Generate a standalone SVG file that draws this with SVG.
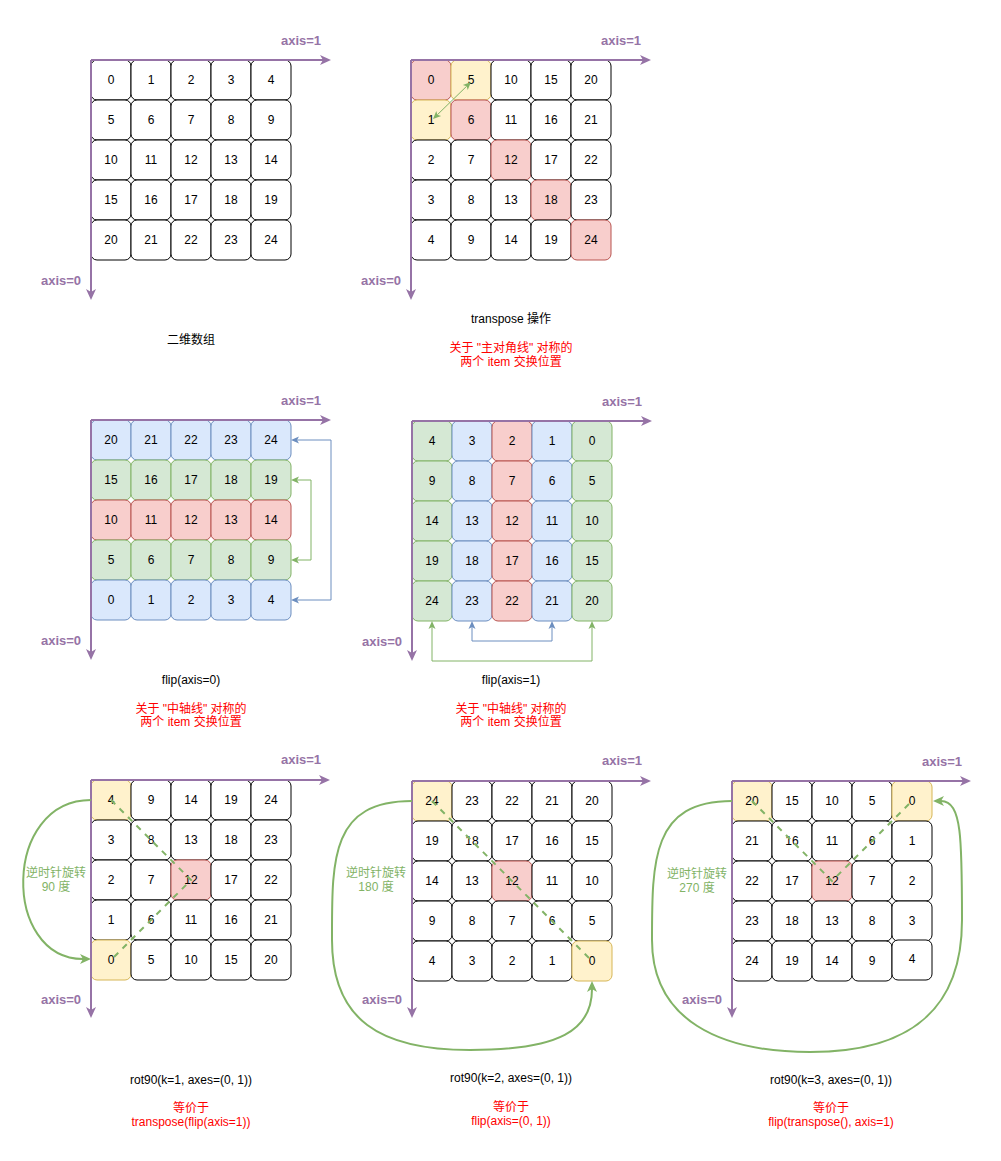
<svg xmlns="http://www.w3.org/2000/svg" width="1001" height="1161" viewBox="0 0 1001 1161">
<style>
text{font-family:"Liberation Sans","Noto Sans CJK SC",sans-serif;font-size:12px;text-anchor:middle;dominant-baseline:central;fill:#000}
.cell rect{fill:#fff;stroke:#000;stroke-width:1}
.cell.r rect{fill:#f8cecc;stroke:#b85450}
.cell.y rect{fill:#fff2cc;stroke:#d6b656}
.cell.b rect{fill:#dae8fc;stroke:#6c8ebf}
.cell.g rect{fill:#d5e8d4;stroke:#82b366}
.ax{stroke:#9673a6;stroke-width:2;fill:none}
.axl{font-size:13px;font-weight:bold;fill:#9673a6}
.red{fill:#ff0000}
.grn{fill:#82b366}
.lg{stroke:#82b366;stroke-width:1;fill:none}
.lb{stroke:#6c8ebf;stroke-width:1;fill:none}
.dash{stroke:#82b366;stroke-width:2;fill:none;stroke-dasharray:6 6}
.cur{stroke:#82b366;stroke-width:2;fill:none}
</style>
<defs>
<marker id="ap" markerUnits="userSpaceOnUse" markerWidth="12" markerHeight="12" viewBox="0 0 12 12" refX="3" refY="6" orient="auto-start-reverse"><path d="M0,1 L11,6 L0,11 L3,6 z" fill="#9673a6"/></marker>
<marker id="ac" markerUnits="userSpaceOnUse" markerWidth="12" markerHeight="12" viewBox="0 0 12 12" refX="3" refY="6" orient="auto-start-reverse"><path d="M0,1 L11,6 L0,11 L3,6 z" fill="#82b366"/></marker>
<marker id="ag" markerUnits="userSpaceOnUse" markerWidth="9" markerHeight="9" viewBox="0 0 9 9" refX="2" refY="4.5" orient="auto-start-reverse"><path d="M0,1 L8,4.5 L0,8 L2,4.5 z" fill="#82b366"/></marker>
<marker id="ab" markerUnits="userSpaceOnUse" markerWidth="9" markerHeight="9" viewBox="0 0 9 9" refX="2" refY="4.5" orient="auto-start-reverse"><path d="M0,1 L8,4.5 L0,8 L2,4.5 z" fill="#6c8ebf"/></marker>
</defs>
<rect width="1001" height="1161" fill="#fff"/>

<!-- Grid 1 -->
<g id="grid1" transform="translate(91,60)">
<g id="g1c0" class="cell"><rect x="0" y="0" width="40" height="40" rx="6"/><text x="20" y="20">0</text></g>
<g id="g1c1" class="cell"><rect x="40" y="0" width="40" height="40" rx="6"/><text x="60" y="20">1</text></g>
<g id="g1c2" class="cell"><rect x="80" y="0" width="40" height="40" rx="6"/><text x="100" y="20">2</text></g>
<g id="g1c3" class="cell"><rect x="120" y="0" width="40" height="40" rx="6"/><text x="140" y="20">3</text></g>
<g id="g1c4" class="cell"><rect x="160" y="0" width="40" height="40" rx="6"/><text x="180" y="20">4</text></g>
<g id="g1c5" class="cell"><rect x="0" y="40" width="40" height="40" rx="6"/><text x="20" y="60">5</text></g>
<g id="g1c6" class="cell"><rect x="40" y="40" width="40" height="40" rx="6"/><text x="60" y="60">6</text></g>
<g id="g1c7" class="cell"><rect x="80" y="40" width="40" height="40" rx="6"/><text x="100" y="60">7</text></g>
<g id="g1c8" class="cell"><rect x="120" y="40" width="40" height="40" rx="6"/><text x="140" y="60">8</text></g>
<g id="g1c9" class="cell"><rect x="160" y="40" width="40" height="40" rx="6"/><text x="180" y="60">9</text></g>
<g id="g1c10" class="cell"><rect x="0" y="80" width="40" height="40" rx="6"/><text x="20" y="100">10</text></g>
<g id="g1c11" class="cell"><rect x="40" y="80" width="40" height="40" rx="6"/><text x="60" y="100">11</text></g>
<g id="g1c12" class="cell"><rect x="80" y="80" width="40" height="40" rx="6"/><text x="100" y="100">12</text></g>
<g id="g1c13" class="cell"><rect x="120" y="80" width="40" height="40" rx="6"/><text x="140" y="100">13</text></g>
<g id="g1c14" class="cell"><rect x="160" y="80" width="40" height="40" rx="6"/><text x="180" y="100">14</text></g>
<g id="g1c15" class="cell"><rect x="0" y="120" width="40" height="40" rx="6"/><text x="20" y="140">15</text></g>
<g id="g1c16" class="cell"><rect x="40" y="120" width="40" height="40" rx="6"/><text x="60" y="140">16</text></g>
<g id="g1c17" class="cell"><rect x="80" y="120" width="40" height="40" rx="6"/><text x="100" y="140">17</text></g>
<g id="g1c18" class="cell"><rect x="120" y="120" width="40" height="40" rx="6"/><text x="140" y="140">18</text></g>
<g id="g1c19" class="cell"><rect x="160" y="120" width="40" height="40" rx="6"/><text x="180" y="140">19</text></g>
<g id="g1c20" class="cell"><rect x="0" y="160" width="40" height="40" rx="6"/><text x="20" y="180">20</text></g>
<g id="g1c21" class="cell"><rect x="40" y="160" width="40" height="40" rx="6"/><text x="60" y="180">21</text></g>
<g id="g1c22" class="cell"><rect x="80" y="160" width="40" height="40" rx="6"/><text x="100" y="180">22</text></g>
<g id="g1c23" class="cell"><rect x="120" y="160" width="40" height="40" rx="6"/><text x="140" y="180">23</text></g>
<g id="g1c24" class="cell"><rect x="160" y="160" width="40" height="40" rx="6"/><text x="180" y="180">24</text></g>
</g>

<!-- Grid 2 transpose -->
<g id="grid2" transform="translate(411,60)">
<g id="g2c0" class="cell r"><rect x="0" y="0" width="40" height="40" rx="6"/><text x="20" y="20">0</text></g>
<g id="g2c1" class="cell y"><rect x="40" y="0" width="40" height="40" rx="6"/><text x="60" y="20">5</text></g>
<g id="g2c2" class="cell"><rect x="80" y="0" width="40" height="40" rx="6"/><text x="100" y="20">10</text></g>
<g id="g2c3" class="cell"><rect x="120" y="0" width="40" height="40" rx="6"/><text x="140" y="20">15</text></g>
<g id="g2c4" class="cell"><rect x="160" y="0" width="40" height="40" rx="6"/><text x="180" y="20">20</text></g>
<g id="g2c5" class="cell y"><rect x="0" y="40" width="40" height="40" rx="6"/><text x="20" y="60">1</text></g>
<g id="g2c6" class="cell r"><rect x="40" y="40" width="40" height="40" rx="6"/><text x="60" y="60">6</text></g>
<g id="g2c7" class="cell"><rect x="80" y="40" width="40" height="40" rx="6"/><text x="100" y="60">11</text></g>
<g id="g2c8" class="cell"><rect x="120" y="40" width="40" height="40" rx="6"/><text x="140" y="60">16</text></g>
<g id="g2c9" class="cell"><rect x="160" y="40" width="40" height="40" rx="6"/><text x="180" y="60">21</text></g>
<g id="g2c10" class="cell"><rect x="0" y="80" width="40" height="40" rx="6"/><text x="20" y="100">2</text></g>
<g id="g2c11" class="cell"><rect x="40" y="80" width="40" height="40" rx="6"/><text x="60" y="100">7</text></g>
<g id="g2c12" class="cell r"><rect x="80" y="80" width="40" height="40" rx="6"/><text x="100" y="100">12</text></g>
<g id="g2c13" class="cell"><rect x="120" y="80" width="40" height="40" rx="6"/><text x="140" y="100">17</text></g>
<g id="g2c14" class="cell"><rect x="160" y="80" width="40" height="40" rx="6"/><text x="180" y="100">22</text></g>
<g id="g2c15" class="cell"><rect x="0" y="120" width="40" height="40" rx="6"/><text x="20" y="140">3</text></g>
<g id="g2c16" class="cell"><rect x="40" y="120" width="40" height="40" rx="6"/><text x="60" y="140">8</text></g>
<g id="g2c17" class="cell"><rect x="80" y="120" width="40" height="40" rx="6"/><text x="100" y="140">13</text></g>
<g id="g2c18" class="cell r"><rect x="120" y="120" width="40" height="40" rx="6"/><text x="140" y="140">18</text></g>
<g id="g2c19" class="cell"><rect x="160" y="120" width="40" height="40" rx="6"/><text x="180" y="140">23</text></g>
<g id="g2c20" class="cell"><rect x="0" y="160" width="40" height="40" rx="6"/><text x="20" y="180">4</text></g>
<g id="g2c21" class="cell"><rect x="40" y="160" width="40" height="40" rx="6"/><text x="60" y="180">9</text></g>
<g id="g2c22" class="cell"><rect x="80" y="160" width="40" height="40" rx="6"/><text x="100" y="180">14</text></g>
<g id="g2c23" class="cell"><rect x="120" y="160" width="40" height="40" rx="6"/><text x="140" y="180">19</text></g>
<g id="g2c24" class="cell r"><rect x="160" y="160" width="40" height="40" rx="6"/><text x="180" y="180">24</text></g>
</g>

<!-- Grid 3 flip axis=0 -->
<g id="grid3" transform="translate(91,420)">
<g id="g3c0" class="cell b"><rect x="0" y="0" width="40" height="40" rx="6"/><text x="20" y="20">20</text></g>
<g id="g3c1" class="cell b"><rect x="40" y="0" width="40" height="40" rx="6"/><text x="60" y="20">21</text></g>
<g id="g3c2" class="cell b"><rect x="80" y="0" width="40" height="40" rx="6"/><text x="100" y="20">22</text></g>
<g id="g3c3" class="cell b"><rect x="120" y="0" width="40" height="40" rx="6"/><text x="140" y="20">23</text></g>
<g id="g3c4" class="cell b"><rect x="160" y="0" width="40" height="40" rx="6"/><text x="180" y="20">24</text></g>
<g id="g3c5" class="cell g"><rect x="0" y="40" width="40" height="40" rx="6"/><text x="20" y="60">15</text></g>
<g id="g3c6" class="cell g"><rect x="40" y="40" width="40" height="40" rx="6"/><text x="60" y="60">16</text></g>
<g id="g3c7" class="cell g"><rect x="80" y="40" width="40" height="40" rx="6"/><text x="100" y="60">17</text></g>
<g id="g3c8" class="cell g"><rect x="120" y="40" width="40" height="40" rx="6"/><text x="140" y="60">18</text></g>
<g id="g3c9" class="cell g"><rect x="160" y="40" width="40" height="40" rx="6"/><text x="180" y="60">19</text></g>
<g id="g3c10" class="cell r"><rect x="0" y="80" width="40" height="40" rx="6"/><text x="20" y="100">10</text></g>
<g id="g3c11" class="cell r"><rect x="40" y="80" width="40" height="40" rx="6"/><text x="60" y="100">11</text></g>
<g id="g3c12" class="cell r"><rect x="80" y="80" width="40" height="40" rx="6"/><text x="100" y="100">12</text></g>
<g id="g3c13" class="cell r"><rect x="120" y="80" width="40" height="40" rx="6"/><text x="140" y="100">13</text></g>
<g id="g3c14" class="cell r"><rect x="160" y="80" width="40" height="40" rx="6"/><text x="180" y="100">14</text></g>
<g id="g3c15" class="cell g"><rect x="0" y="120" width="40" height="40" rx="6"/><text x="20" y="140">5</text></g>
<g id="g3c16" class="cell g"><rect x="40" y="120" width="40" height="40" rx="6"/><text x="60" y="140">6</text></g>
<g id="g3c17" class="cell g"><rect x="80" y="120" width="40" height="40" rx="6"/><text x="100" y="140">7</text></g>
<g id="g3c18" class="cell g"><rect x="120" y="120" width="40" height="40" rx="6"/><text x="140" y="140">8</text></g>
<g id="g3c19" class="cell g"><rect x="160" y="120" width="40" height="40" rx="6"/><text x="180" y="140">9</text></g>
<g id="g3c20" class="cell b"><rect x="0" y="160" width="40" height="40" rx="6"/><text x="20" y="180">0</text></g>
<g id="g3c21" class="cell b"><rect x="40" y="160" width="40" height="40" rx="6"/><text x="60" y="180">1</text></g>
<g id="g3c22" class="cell b"><rect x="80" y="160" width="40" height="40" rx="6"/><text x="100" y="180">2</text></g>
<g id="g3c23" class="cell b"><rect x="120" y="160" width="40" height="40" rx="6"/><text x="140" y="180">3</text></g>
<g id="g3c24" class="cell b"><rect x="160" y="160" width="40" height="40" rx="6"/><text x="180" y="180">4</text></g>
</g>

<!-- Grid 4 flip axis=1 -->
<g id="grid4" transform="translate(412,421)">
<g id="g4c0" class="cell g"><rect x="0" y="0" width="40" height="40" rx="6"/><text x="20" y="20">4</text></g>
<g id="g4c1" class="cell b"><rect x="40" y="0" width="40" height="40" rx="6"/><text x="60" y="20">3</text></g>
<g id="g4c2" class="cell r"><rect x="80" y="0" width="40" height="40" rx="6"/><text x="100" y="20">2</text></g>
<g id="g4c3" class="cell b"><rect x="120" y="0" width="40" height="40" rx="6"/><text x="140" y="20">1</text></g>
<g id="g4c4" class="cell g"><rect x="160" y="0" width="40" height="40" rx="6"/><text x="180" y="20">0</text></g>
<g id="g4c5" class="cell g"><rect x="0" y="40" width="40" height="40" rx="6"/><text x="20" y="60">9</text></g>
<g id="g4c6" class="cell b"><rect x="40" y="40" width="40" height="40" rx="6"/><text x="60" y="60">8</text></g>
<g id="g4c7" class="cell r"><rect x="80" y="40" width="40" height="40" rx="6"/><text x="100" y="60">7</text></g>
<g id="g4c8" class="cell b"><rect x="120" y="40" width="40" height="40" rx="6"/><text x="140" y="60">6</text></g>
<g id="g4c9" class="cell g"><rect x="160" y="40" width="40" height="40" rx="6"/><text x="180" y="60">5</text></g>
<g id="g4c10" class="cell g"><rect x="0" y="80" width="40" height="40" rx="6"/><text x="20" y="100">14</text></g>
<g id="g4c11" class="cell b"><rect x="40" y="80" width="40" height="40" rx="6"/><text x="60" y="100">13</text></g>
<g id="g4c12" class="cell r"><rect x="80" y="80" width="40" height="40" rx="6"/><text x="100" y="100">12</text></g>
<g id="g4c13" class="cell b"><rect x="120" y="80" width="40" height="40" rx="6"/><text x="140" y="100">11</text></g>
<g id="g4c14" class="cell g"><rect x="160" y="80" width="40" height="40" rx="6"/><text x="180" y="100">10</text></g>
<g id="g4c15" class="cell g"><rect x="0" y="120" width="40" height="40" rx="6"/><text x="20" y="140">19</text></g>
<g id="g4c16" class="cell b"><rect x="40" y="120" width="40" height="40" rx="6"/><text x="60" y="140">18</text></g>
<g id="g4c17" class="cell r"><rect x="80" y="120" width="40" height="40" rx="6"/><text x="100" y="140">17</text></g>
<g id="g4c18" class="cell b"><rect x="120" y="120" width="40" height="40" rx="6"/><text x="140" y="140">16</text></g>
<g id="g4c19" class="cell g"><rect x="160" y="120" width="40" height="40" rx="6"/><text x="180" y="140">15</text></g>
<g id="g4c20" class="cell g"><rect x="0" y="160" width="40" height="40" rx="6"/><text x="20" y="180">24</text></g>
<g id="g4c21" class="cell b"><rect x="40" y="160" width="40" height="40" rx="6"/><text x="60" y="180">23</text></g>
<g id="g4c22" class="cell r"><rect x="80" y="160" width="40" height="40" rx="6"/><text x="100" y="180">22</text></g>
<g id="g4c23" class="cell b"><rect x="120" y="160" width="40" height="40" rx="6"/><text x="140" y="180">21</text></g>
<g id="g4c24" class="cell g"><rect x="160" y="160" width="40" height="40" rx="6"/><text x="180" y="180">20</text></g>
</g>

<!-- Grid 5 rot90 k=1 -->
<g id="grid5" transform="translate(91,780)">
<g id="g5c0" class="cell y"><rect x="0" y="0" width="40" height="40" rx="6"/><text x="20" y="20">4</text></g>
<g id="g5c1" class="cell"><rect x="40" y="0" width="40" height="40" rx="6"/><text x="60" y="20">9</text></g>
<g id="g5c2" class="cell"><rect x="80" y="0" width="40" height="40" rx="6"/><text x="100" y="20">14</text></g>
<g id="g5c3" class="cell"><rect x="120" y="0" width="40" height="40" rx="6"/><text x="140" y="20">19</text></g>
<g id="g5c4" class="cell"><rect x="160" y="0" width="40" height="40" rx="6"/><text x="180" y="20">24</text></g>
<g id="g5c5" class="cell"><rect x="0" y="40" width="40" height="40" rx="6"/><text x="20" y="60">3</text></g>
<g id="g5c6" class="cell"><rect x="40" y="40" width="40" height="40" rx="6"/><text x="60" y="60">8</text></g>
<g id="g5c7" class="cell"><rect x="80" y="40" width="40" height="40" rx="6"/><text x="100" y="60">13</text></g>
<g id="g5c8" class="cell"><rect x="120" y="40" width="40" height="40" rx="6"/><text x="140" y="60">18</text></g>
<g id="g5c9" class="cell"><rect x="160" y="40" width="40" height="40" rx="6"/><text x="180" y="60">23</text></g>
<g id="g5c10" class="cell"><rect x="0" y="80" width="40" height="40" rx="6"/><text x="20" y="100">2</text></g>
<g id="g5c11" class="cell"><rect x="40" y="80" width="40" height="40" rx="6"/><text x="60" y="100">7</text></g>
<g id="g5c12" class="cell r"><rect x="80" y="80" width="40" height="40" rx="6"/><text x="100" y="100">12</text></g>
<g id="g5c13" class="cell"><rect x="120" y="80" width="40" height="40" rx="6"/><text x="140" y="100">17</text></g>
<g id="g5c14" class="cell"><rect x="160" y="80" width="40" height="40" rx="6"/><text x="180" y="100">22</text></g>
<g id="g5c15" class="cell"><rect x="0" y="120" width="40" height="40" rx="6"/><text x="20" y="140">1</text></g>
<g id="g5c16" class="cell"><rect x="40" y="120" width="40" height="40" rx="6"/><text x="60" y="140">6</text></g>
<g id="g5c17" class="cell"><rect x="80" y="120" width="40" height="40" rx="6"/><text x="100" y="140">11</text></g>
<g id="g5c18" class="cell"><rect x="120" y="120" width="40" height="40" rx="6"/><text x="140" y="140">16</text></g>
<g id="g5c19" class="cell"><rect x="160" y="120" width="40" height="40" rx="6"/><text x="180" y="140">21</text></g>
<g id="g5c20" class="cell y"><rect x="0" y="160" width="40" height="40" rx="6"/><text x="20" y="180">0</text></g>
<g id="g5c21" class="cell"><rect x="40" y="160" width="40" height="40" rx="6"/><text x="60" y="180">5</text></g>
<g id="g5c22" class="cell"><rect x="80" y="160" width="40" height="40" rx="6"/><text x="100" y="180">10</text></g>
<g id="g5c23" class="cell"><rect x="120" y="160" width="40" height="40" rx="6"/><text x="140" y="180">15</text></g>
<g id="g5c24" class="cell"><rect x="160" y="160" width="40" height="40" rx="6"/><text x="180" y="180">20</text></g>
</g>

<!-- Grid 6 rot90 k=2 -->
<g id="grid6" transform="translate(412,781)">
<g id="g6c0" class="cell y"><rect x="0" y="0" width="40" height="40" rx="6"/><text x="20" y="20">24</text></g>
<g id="g6c1" class="cell"><rect x="40" y="0" width="40" height="40" rx="6"/><text x="60" y="20">23</text></g>
<g id="g6c2" class="cell"><rect x="80" y="0" width="40" height="40" rx="6"/><text x="100" y="20">22</text></g>
<g id="g6c3" class="cell"><rect x="120" y="0" width="40" height="40" rx="6"/><text x="140" y="20">21</text></g>
<g id="g6c4" class="cell"><rect x="160" y="0" width="40" height="40" rx="6"/><text x="180" y="20">20</text></g>
<g id="g6c5" class="cell"><rect x="0" y="40" width="40" height="40" rx="6"/><text x="20" y="60">19</text></g>
<g id="g6c6" class="cell"><rect x="40" y="40" width="40" height="40" rx="6"/><text x="60" y="60">18</text></g>
<g id="g6c7" class="cell"><rect x="80" y="40" width="40" height="40" rx="6"/><text x="100" y="60">17</text></g>
<g id="g6c8" class="cell"><rect x="120" y="40" width="40" height="40" rx="6"/><text x="140" y="60">16</text></g>
<g id="g6c9" class="cell"><rect x="160" y="40" width="40" height="40" rx="6"/><text x="180" y="60">15</text></g>
<g id="g6c10" class="cell"><rect x="0" y="80" width="40" height="40" rx="6"/><text x="20" y="100">14</text></g>
<g id="g6c11" class="cell"><rect x="40" y="80" width="40" height="40" rx="6"/><text x="60" y="100">13</text></g>
<g id="g6c12" class="cell r"><rect x="80" y="80" width="40" height="40" rx="6"/><text x="100" y="100">12</text></g>
<g id="g6c13" class="cell"><rect x="120" y="80" width="40" height="40" rx="6"/><text x="140" y="100">11</text></g>
<g id="g6c14" class="cell"><rect x="160" y="80" width="40" height="40" rx="6"/><text x="180" y="100">10</text></g>
<g id="g6c15" class="cell"><rect x="0" y="120" width="40" height="40" rx="6"/><text x="20" y="140">9</text></g>
<g id="g6c16" class="cell"><rect x="40" y="120" width="40" height="40" rx="6"/><text x="60" y="140">8</text></g>
<g id="g6c17" class="cell"><rect x="80" y="120" width="40" height="40" rx="6"/><text x="100" y="140">7</text></g>
<g id="g6c18" class="cell"><rect x="120" y="120" width="40" height="40" rx="6"/><text x="140" y="140">6</text></g>
<g id="g6c19" class="cell"><rect x="160" y="120" width="40" height="40" rx="6"/><text x="180" y="140">5</text></g>
<g id="g6c20" class="cell"><rect x="0" y="160" width="40" height="40" rx="6"/><text x="20" y="180">4</text></g>
<g id="g6c21" class="cell"><rect x="40" y="160" width="40" height="40" rx="6"/><text x="60" y="180">3</text></g>
<g id="g6c22" class="cell"><rect x="80" y="160" width="40" height="40" rx="6"/><text x="100" y="180">2</text></g>
<g id="g6c23" class="cell"><rect x="120" y="160" width="40" height="40" rx="6"/><text x="140" y="180">1</text></g>
<g id="g6c24" class="cell y"><rect x="160" y="160" width="40" height="40" rx="6"/><text x="180" y="180">0</text></g>
</g>

<!-- Grid 7 rot90 k=3 -->
<g id="grid7" transform="translate(732,781)">
<g id="g7c0" class="cell y"><rect x="0" y="0" width="40" height="40" rx="6"/><text x="20" y="20">20</text></g>
<g id="g7c1" class="cell"><rect x="40" y="0" width="40" height="40" rx="6"/><text x="60" y="20">15</text></g>
<g id="g7c2" class="cell"><rect x="80" y="0" width="40" height="40" rx="6"/><text x="100" y="20">10</text></g>
<g id="g7c3" class="cell"><rect x="120" y="0" width="40" height="40" rx="6"/><text x="140" y="20">5</text></g>
<g id="g7c4" class="cell y"><rect x="160" y="0" width="40" height="40" rx="6"/><text x="180" y="20">0</text></g>
<g id="g7c5" class="cell"><rect x="0" y="40" width="40" height="40" rx="6"/><text x="20" y="60">21</text></g>
<g id="g7c6" class="cell"><rect x="40" y="40" width="40" height="40" rx="6"/><text x="60" y="60">16</text></g>
<g id="g7c7" class="cell"><rect x="80" y="40" width="40" height="40" rx="6"/><text x="100" y="60">11</text></g>
<g id="g7c8" class="cell"><rect x="120" y="40" width="40" height="40" rx="6"/><text x="140" y="60">6</text></g>
<g id="g7c9" class="cell"><rect x="160" y="40" width="40" height="40" rx="6"/><text x="180" y="60">1</text></g>
<g id="g7c10" class="cell"><rect x="0" y="80" width="40" height="40" rx="6"/><text x="20" y="100">22</text></g>
<g id="g7c11" class="cell"><rect x="40" y="80" width="40" height="40" rx="6"/><text x="60" y="100">17</text></g>
<g id="g7c12" class="cell r"><rect x="80" y="80" width="40" height="40" rx="6"/><text x="100" y="100">12</text></g>
<g id="g7c13" class="cell"><rect x="120" y="80" width="40" height="40" rx="6"/><text x="140" y="100">7</text></g>
<g id="g7c14" class="cell"><rect x="160" y="80" width="40" height="40" rx="6"/><text x="180" y="100">2</text></g>
<g id="g7c15" class="cell"><rect x="0" y="120" width="40" height="40" rx="6"/><text x="20" y="140">23</text></g>
<g id="g7c16" class="cell"><rect x="40" y="120" width="40" height="40" rx="6"/><text x="60" y="140">18</text></g>
<g id="g7c17" class="cell"><rect x="80" y="120" width="40" height="40" rx="6"/><text x="100" y="140">13</text></g>
<g id="g7c18" class="cell"><rect x="120" y="120" width="40" height="40" rx="6"/><text x="140" y="140">8</text></g>
<g id="g7c19" class="cell"><rect x="160" y="120" width="40" height="40" rx="6"/><text x="180" y="140">3</text></g>
<g id="g7c20" class="cell"><rect x="0" y="160" width="40" height="40" rx="6"/><text x="20" y="180">24</text></g>
<g id="g7c21" class="cell"><rect x="40" y="160" width="40" height="40" rx="6"/><text x="60" y="180">19</text></g>
<g id="g7c22" class="cell"><rect x="80" y="160" width="40" height="40" rx="6"/><text x="100" y="180">14</text></g>
<g id="g7c23" class="cell"><rect x="120" y="160" width="40" height="40" rx="6"/><text x="140" y="180">9</text></g>
<g id="g7c24" class="cell"><rect x="160" y="159" width="40" height="40" rx="6"/><text x="180" y="178">4</text></g>
</g>

<!-- Connectors -->
<g id="connectors">
<!-- axes -->
<path class="ax" d="M91,60 H323" marker-end="url(#ap)"/>
<path class="ax" d="M91,60 V292" marker-end="url(#ap)"/>
<path class="ax" d="M411,60 H643" marker-end="url(#ap)"/>
<path class="ax" d="M411,60 V292" marker-end="url(#ap)"/>
<path class="ax" d="M91,420 H323" marker-end="url(#ap)"/>
<path class="ax" d="M91,420 V652" marker-end="url(#ap)"/>
<path class="ax" d="M412,421 H644" marker-end="url(#ap)"/>
<path class="ax" d="M412,421 V653" marker-end="url(#ap)"/>
<path class="ax" d="M91,780 H322" marker-end="url(#ap)"/>
<path class="ax" d="M91,780 V1010" marker-end="url(#ap)"/>
<path class="ax" d="M412,781 H643" marker-end="url(#ap)"/>
<path class="ax" d="M412,781 V1010" marker-end="url(#ap)"/>
<path class="ax" d="M732,781 H963" marker-end="url(#ap)"/>
<path class="ax" d="M732,781 V1010" marker-end="url(#ap)"/>
<!-- transpose swap -->
<path class="lg" d="M437.3,114.8 L466.7,86.2" marker-start="url(#ag)" marker-end="url(#ag)"/>
<!-- flip axis=0 -->
<path class="lb" d="M297,440 H331 V600 H297" marker-start="url(#ab)" marker-end="url(#ab)"/>
<path class="lg" d="M297,480 H311 V560 H297" marker-start="url(#ag)" marker-end="url(#ag)"/>
<!-- flip axis=1 -->
<path class="lg" d="M432,627 V661 H592 V627" marker-start="url(#ag)" marker-end="url(#ag)"/>
<path class="lb" d="M472,627 V641 H552 V627" marker-start="url(#ab)" marker-end="url(#ab)"/>
<!-- dashed diagonals -->
<path class="dash" d="M111,800 L191,880 L111,960"/>
<path class="dash" d="M432,801 L592,961"/>
<path class="dash" d="M752,801 L832,881 L912,801"/>
<!-- rotation curves -->
<path class="cur" d="M91,800 C2,800 2,959 83,959" marker-end="url(#ac)"/>
<path class="cur" d="M412,801 C330,801 332,860 332,940 C332,1020 380,1050 470,1050 C560,1050 592,1030 592,989" marker-end="url(#ac)"/>
<path class="cur" d="M732,801 C652,801 652,860 652,940 C652,1020 720,1052 810,1052 C910,1052 962,1010 962,920 C962,840 962,801 941,801" marker-end="url(#ac)"/>
</g>

<!-- Labels -->
<g id="labels">
<text class="axl" x="301" y="40">axis=1</text>
<text class="axl" x="61" y="280">axis=0</text>
<text class="axl" x="621" y="40">axis=1</text>
<text class="axl" x="381" y="280">axis=0</text>
<text class="axl" x="301" y="400">axis=1</text>
<text class="axl" x="61" y="640">axis=0</text>
<text class="axl" x="622" y="401">axis=1</text>
<text class="axl" x="382" y="641">axis=0</text>
<text class="axl" x="301" y="759">axis=1</text>
<text class="axl" x="61" y="999">axis=0</text>
<text class="axl" x="622" y="760">axis=1</text>
<text class="axl" x="382" y="999">axis=0</text>
<text class="axl" x="942" y="761">axis=1</text>
<text class="axl" x="702" y="999">axis=0</text>

<text x="191" y="340">二维数组</text>
<text x="511" y="319">transpose 操作</text>
<text class="red" x="511" y="348">关于 "主对角线" 对称的</text>
<text class="red" x="511" y="362">两个 item 交换位置</text>

<text x="191" y="680">flip(axis=0)</text>
<text class="red" x="191" y="709">关于 "中轴线" 对称的</text>
<text class="red" x="191" y="722">两个 item 交换位置</text>
<text x="511" y="680">flip(axis=1)</text>
<text class="red" x="511" y="709">关于 "中轴线" 对称的</text>
<text class="red" x="511" y="722">两个 item 交换位置</text>

<text class="grn" x="56" y="873">逆时针旋转</text>
<text class="grn" x="56" y="887">90 度</text>
<text class="grn" x="376" y="873">逆时针旋转</text>
<text class="grn" x="376" y="887">180 度</text>
<text class="grn" x="697" y="874">逆时针旋转</text>
<text class="grn" x="697" y="888">270 度</text>

<text x="191" y="1080">rot90(k=1, axes=(0, 1))</text>
<text class="red" x="191" y="1108">等价于</text>
<text class="red" x="191" y="1122">transpose(flip(axis=1))</text>
<text x="511" y="1078">rot90(k=2, axes=(0, 1))</text>
<text class="red" x="511" y="1107">等价于</text>
<text class="red" x="511" y="1121">flip(axis=(0, 1))</text>
<text x="831" y="1080">rot90(k=3, axes=(0, 1))</text>
<text class="red" x="831" y="1108">等价于</text>
<text class="red" x="831" y="1122">flip(transpose(), axis=1)</text>
</g>
</svg>
